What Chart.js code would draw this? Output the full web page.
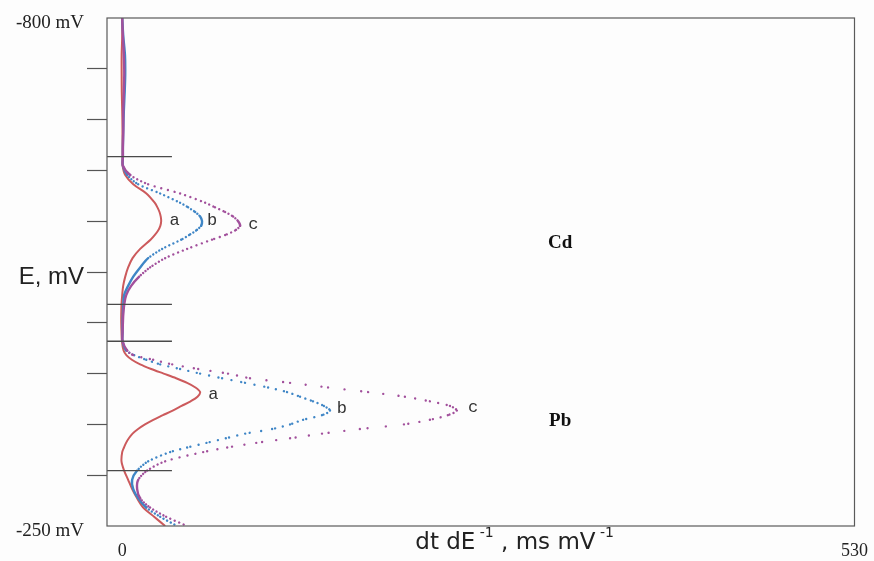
<!DOCTYPE html>
<html>
<head>
<meta charset="utf-8">
<script src="https://cdn.jsdelivr.net/npm/chart.js@4.4.1/dist/chart.umd.min.js"></script>
<style>
  body { margin: 0; background: #fdfdfd; }
  canvas { display: block; }
</style>
</head>
<body>
<canvas id="myChart" width="874" height="561"></canvas>
<script>
// potential E (mV), shared by the three curves
const E = [-800, -780, -760, -740, -720, -700, -680, -660, -650,
  -640, -630, -620, -610, -600, -595, -590, -585, -580, -575, -570, -565, -560, -550, -540, -530, -520, -510, -500,
  -490, -480, -470, -460, -450,
  -440, -435, -430, -425, -420, -415, -410, -405, -400, -395, -390, -385, -380, -375, -370, -365, -360, -355, -350,
  -345, -340, -335, -330, -320, -310, -300, -290, -280, -270, -260, -250];

// dt/dE (ms/mV)
const curveA = [0, 0, -0.4, -0.4, -0.3, 0, 0.2, 0.2, 0.2,
  0.3, 2.2, 8, 17.5, 23.5, 25.5, 27, 27.9, 28.2, 27.6, 26, 23.5, 20.5, 13, 7.5, 4.3, 2.2, 0.7, 0,
  -0.5, -0.7, -0.7, -0.5, -0.2,
  1, 3, 7, 13, 21, 30, 39, 47, 53, 56.4, 54.5, 49.5, 43, 36.5, 29.5, 22.5, 16.5, 11.5, 7.5,
  4.8, 2.8, 1.3, 0, -0.5, 1.4, 4.3, 7.2, 10.8, 15.2, 23.1, 31.1];
const curveB = [0, 0.8, 2, 2.2, 1.8, 1.2, 0.8, 0.5, 0.5,
  0.5, 3.6, 11.6, 27.5, 41.9, 47.7, 52.8, 56.4, 57.8, 57.1, 53.5, 48.4, 42.7, 28.9, 18.8, 13, 8, 4.3, 1.4,
  0.8, 0.5, 0.3, 0.3, 0.3,
  2.9, 8.7, 17.4, 27.5, 41.9, 56.4, 72.3, 88.9, 105.6, 119.3, 128.7, 138.1, 146, 150.4, 144.6, 130.9, 121.5, 108.5, 89,
  75, 61, 47, 34.7, 18.8, 10.8, 7.2, 8, 11.6, 17.4, 27.5, 39.8];
const curveC = [0, 0.5, 1.2, 1.5, 1.2, 0.8, 0.8, 0.5, 0.5,
  0.5, 5.8, 18.8, 41.9, 60, 67.2, 74.5, 80.3, 83.9, 85.3, 81.7, 74.5, 65, 47, 31.1, 20.2, 12.3, 6.5, 2.9,
  1.5, 0.8, 0.5, 0.3, 0.3,
  3.6, 8, 22.4, 36.2, 55, 76.6, 92.5, 121.5, 149, 178, 204.6, 222.7, 237.2, 242.2, 235.7, 222.7, 203.9, 172, 144.6,
  121.5, 97, 76, 58.6, 31.1, 18.1, 11.6, 10.8, 13, 20.2, 31.8, 47];

// short horizontal marks at the left of the plot
const markerE = [-650, -490, -450, -310];
const markerEnd = 36;

// axes
const xMin = -11, xMax = 530;
const xTicks = [0, 530];
const yTicks = [-800, -745, -690, -635, -580, -525, -470, -415, -360, -305, -250];
const yTickLabels = {"-800": "-800 mV", "-525": "E, mV", "-250": "-250 mV"};

// curve letters and element names
const curveLetters = ["a", "b", "c", "a", "b", "c"];
const letterX = [38, 65, 95, 66, 159, 254];
const letterE = [-581, -581, -576, -392, -377, -378];
const elements = ["Cd", "Pb"];
const elementX = [317, 317];
const elementE = [-556, -364];

// dots spaced like the sampled points of the original trace
function dotted(ctx) {
  const dx = ctx.p1.x - ctx.p0.x;
  const dy = Math.abs(ctx.p1.y - ctx.p0.y);
  const gap = 1.9 * Math.hypot(dx, dy) / Math.max(dy, 0.1);
  return gap < 2.6 ? undefined : [0.01, gap];
}

const toPoints = (vals) => E.map((e, i) => ({ x: vals[i], y: e }));

const datasets = markerE.map((e) => ({
  data: [{ x: xMin, y: e }, { x: markerEnd, y: e }],
  borderColor: "#4a4a4a",
  borderWidth: 1.3,
  pointRadius: 0,
  showLine: true,
}));

datasets.push(
  {
    label: "c",
    data: toPoints(curveC),
    borderColor: "#a2509c",
    borderWidth: 2.4,
    borderCapStyle: "round",
    segment: { borderDash: dotted },
    pointRadius: 0,
    showLine: true,
    tension: 0.3,
  },
  {
    label: "b",
    data: toPoints(curveB),
    borderColor: "#3f86c6",
    borderWidth: 2.4,
    borderCapStyle: "round",
    segment: { borderDash: dotted },
    pointRadius: 0,
    showLine: true,
    tension: 0.3,
  },
  {
    label: "a",
    data: toPoints(curveA),
    borderColor: "#cc5a5c",
    borderWidth: 2,
    pointRadius: 0,
    showLine: true,
    tension: 0.3,
  }
);

function drawSup(ctx, parts, cx, baseline) {
  // parts: [text, isSuperscript]
  const big = '23px "DejaVu Sans"';
  const small = '14px "DejaVu Sans"';
  let total = 0;
  parts.forEach(([t, sup]) => {
    ctx.font = sup ? small : big;
    total += ctx.measureText(t).width;
  });
  let x = cx - total / 2;
  ctx.textAlign = "left";
  ctx.textBaseline = "alphabetic";
  parts.forEach(([t, sup]) => {
    ctx.font = sup ? small : big;
    ctx.fillText(t, x, sup ? baseline - 12 : baseline);
    x += ctx.measureText(t).width;
  });
}

const overlay = {
  id: "overlay",
  beforeDraw(chart) {
    const ctx = chart.ctx;
    ctx.save();
    ctx.fillStyle = "#fdfdfd";
    ctx.fillRect(0, 0, chart.width, chart.height);
    ctx.restore();
  },
  afterDatasetsDraw(chart) {
    const ctx = chart.ctx;
    const a = chart.chartArea;
    const xs = chart.scales.x, ys = chart.scales.y;
    ctx.save();
    ctx.strokeStyle = "#5a5a5a";
    ctx.lineWidth = 1.2;
    ctx.strokeRect(a.left, a.top, a.right - a.left, a.bottom - a.top);

    ctx.fillStyle = "#333";
    ctx.font = '17px "Liberation Mono"';
    ctx.textAlign = "center";
    ctx.textBaseline = "middle";
    curveLetters.forEach((t, i) => {
      ctx.fillText(t, xs.getPixelForValue(letterX[i]), ys.getPixelForValue(letterE[i]));
    });

    ctx.fillStyle = "#111";
    ctx.font = 'bold 19px "Liberation Serif"';
    elements.forEach((t, i) => {
      ctx.fillText(t, xs.getPixelForValue(elementX[i]), ys.getPixelForValue(elementE[i]));
    });

    ctx.fillStyle = "#222";
    drawSup(ctx, [["dt dE", false], [" -1", true], [" , ms mV", false], [" -1", true]],
      xs.getPixelForValue(284), a.bottom + 23);
    ctx.restore();
  },
};

const canvasCtx = document.getElementById("myChart").getContext("2d");

const config = {
  type: "scatter",
  data: { datasets },
  options: {
    responsive: false,
    animation: false,
    layout: { padding: { top: 18, right: 6, left: 0, bottom: 0 } },
    plugins: { legend: { display: false }, tooltip: { enabled: false } },
    scales: {
      x: {
        type: "linear",
        min: xMin,
        max: xMax,
        afterBuildTicks: (scale) => { scale.ticks = xTicks.map((v) => ({ value: v })); },
        afterFit: (scale) => { scale.height = 35; },
        grid: { display: false },
        border: { display: false },
        ticks: {
          autoSkip: false,
          maxRotation: 0,
          padding: 6,
          color: "#222",
          font: { family: "Liberation Serif", size: 18 },
        },
      },
      y: {
        type: "linear",
        reverse: true,
        min: -800,
        max: -250,
        afterBuildTicks: (scale) => { scale.ticks = yTicks.map((v) => ({ value: v })); },
        afterFit: (scale) => { scale.width = 107; },
        grid: {
          drawOnChartArea: false,
          tickLength: 20,
          tickWidth: 1.2,
          tickColor: (c) => (c.tick && (c.tick.value === -800 || c.tick.value === -250) ? "rgba(0,0,0,0)" : "#555"),
        },
        border: { display: false },
        ticks: {
          autoSkip: false,
          padding: 3,
          labelOffset: 5,
          color: "#222",
          callback: (v) => yTickLabels[String(v)] || "",
          font: (c) => (c.tick && c.tick.value === -525
            ? { family: "Liberation Sans", size: 24 }
            : { family: "Liberation Serif", size: 19 }),
        },
      },
    },
  },
  plugins: [overlay],
};

let myChart = new Chart(canvasCtx, config);
</script>
</body>
</html>
